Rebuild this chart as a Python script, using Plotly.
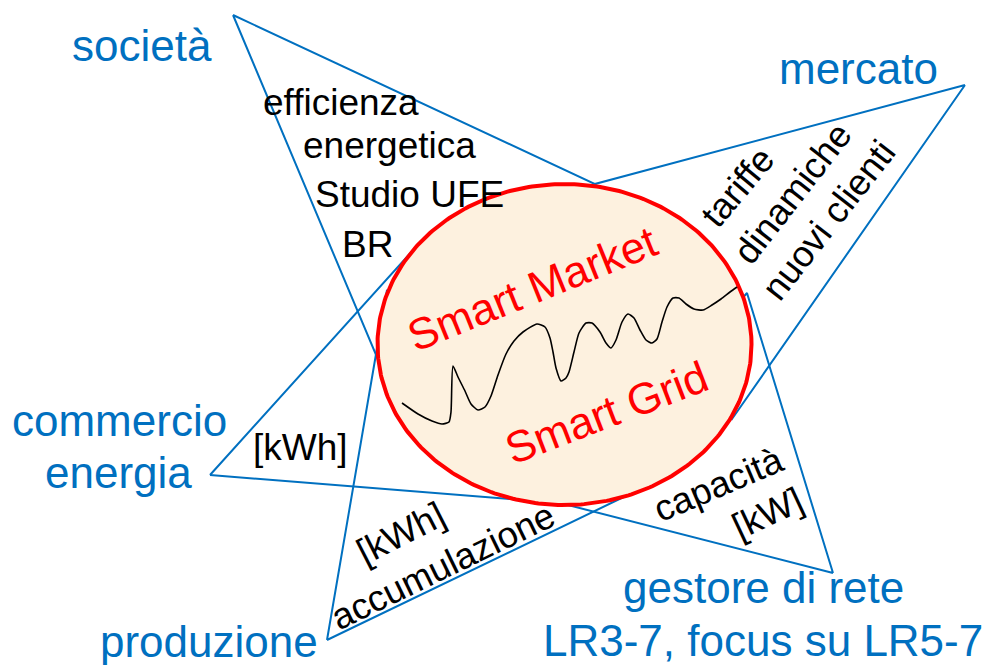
import numpy as np
import plotly.graph_objects as go

# ---- diagram data (pixel-space coordinates of the original drawing) ----
tri_societa_x = [233, 595, 395]
tri_societa_y = [15, 184, 400]
tri_mercato_x = [965, 595, 732]
tri_mercato_y = [85, 184, 419]
tri_commercio_x = [210, 424, 560]
tri_commercio_y = [475, 238, 503]
tri_produzione_x = [327, 387, 630]
tri_produzione_y = [640, 290, 494]
tri_gestore_x = [833, 747, 560]
tri_gestore_y = [573, 293, 503]

ellipse_center = [564.5, 344.5]
ellipse_radii = [187, 160.5]

wave_x = [402, 418, 432, 442, 449, 451, 453, 458, 465, 471, 478, 485, 491, 498, 506, 514,
          523, 537, 545, 550, 553, 556, 561, 566, 569, 574, 579, 586, 592, 600, 606, 611,
          616, 622, 628, 634, 640, 646, 652, 657, 662, 667, 673, 679, 686, 694, 703, 712,
          721, 730, 737]
wave_y = [403, 414, 421, 424, 422, 412, 366, 377, 391, 404, 410, 407, 396, 375, 354, 341,
          332, 324, 327, 338, 352, 368, 381, 378, 372, 352, 333, 323, 323, 332, 343, 348,
          340, 322, 314, 318, 330, 340, 343, 339, 322, 307, 298, 298, 304, 309, 310, 305,
          299, 292, 287]

# labels: text, x, y, size, color, angle
blue_labels = ["società", "mercato", "commercio", "energia", "produzione",
               "gestore di rete", "LR3-7, focus su LR5-7"]
blue_x = [142, 858, 119, 118, 209, 763, 763]
blue_y = [45, 68, 420, 472, 641, 587, 640]

black_labels = ["efficienza", "energetica", "Studio UFE", "BR", "[kWh]"]
black_x = [341, 389, 409, 367, 300]
black_y = [102, 145, 194, 244, 447]

rot_labels = ["tariffe", "dinamiche", "nuovi clienti", "[kWh]", "accumulazione",
              "capacità", "[kW]"]
rot_x = [737, 792, 828, 400, 442, 718, 767]
rot_y = [187, 193, 220, 533, 566, 484, 513]
rot_angle = [-50, -52, -52, -27, -26, -23, -25]

red_labels = ["Smart Market", "Smart Grid"]
red_x = [532, 606]
red_y = [288, 412]
red_angle = [-22, -21]

BLUE = "#0070C0"
FONT = "Liberation Sans, Arial, sans-serif"

fig = go.Figure()

for tx, ty in [(tri_societa_x, tri_societa_y), (tri_mercato_x, tri_mercato_y),
               (tri_commercio_x, tri_commercio_y), (tri_produzione_x, tri_produzione_y),
               (tri_gestore_x, tri_gestore_y)]:
    fig.add_trace(go.Scatter(x=tx + tx[:1], y=ty + ty[:1], mode="lines",
                             line=dict(color=BLUE, width=2), hoverinfo="skip",
                             showlegend=False))

theta = np.linspace(0, 2 * np.pi, 361)
ex = ellipse_center[0] + ellipse_radii[0] * np.cos(theta)
ey = ellipse_center[1] + ellipse_radii[1] * np.sin(theta)
fig.add_trace(go.Scatter(x=ex, y=ey, mode="lines", fill="toself", fillcolor="#FDF1DF",
                         line=dict(color="#FF0000", width=4), hoverinfo="skip",
                         showlegend=False))

fig.add_trace(go.Scatter(x=wave_x, y=wave_y, mode="lines",
                         line=dict(color="black", width=1.6, shape="spline", smoothing=0.6),
                         hoverinfo="skip", showlegend=False))

ann = []
for t, x, y in zip(blue_labels, blue_x, blue_y):
    ann.append(dict(text=t, x=x, y=y, font=dict(size=44, color=BLUE, family=FONT)))
for t, x, y in zip(black_labels, black_x, black_y):
    ann.append(dict(text=t, x=x, y=y, font=dict(size=37, color="black", family=FONT)))
for t, x, y, a in zip(rot_labels, rot_x, rot_y, rot_angle):
    ann.append(dict(text=t, x=x, y=y, textangle=a,
                    font=dict(size=36.5, color="black", family=FONT)))
for t, x, y, a in zip(red_labels, red_x, red_y, red_angle):
    ann.append(dict(text=t, x=x, y=y, textangle=a,
                    font=dict(size=44, color="#FF0000", family=FONT)))
for a in ann:
    a.update(xref="x", yref="y", showarrow=False, xanchor="center", yanchor="middle")

fig.update_layout(
    width=989, height=665, margin=dict(l=0, r=0, t=0, b=0),
    paper_bgcolor="white", plot_bgcolor="white",
    xaxis=dict(range=[0, 989], visible=False, fixedrange=True),
    yaxis=dict(range=[665, 0], visible=False, fixedrange=True),
    annotations=ann, showlegend=False,
)

fig.write_html("out.html", config={"displayModeBar": False},
               post_script="document.body.style.margin='0';")
